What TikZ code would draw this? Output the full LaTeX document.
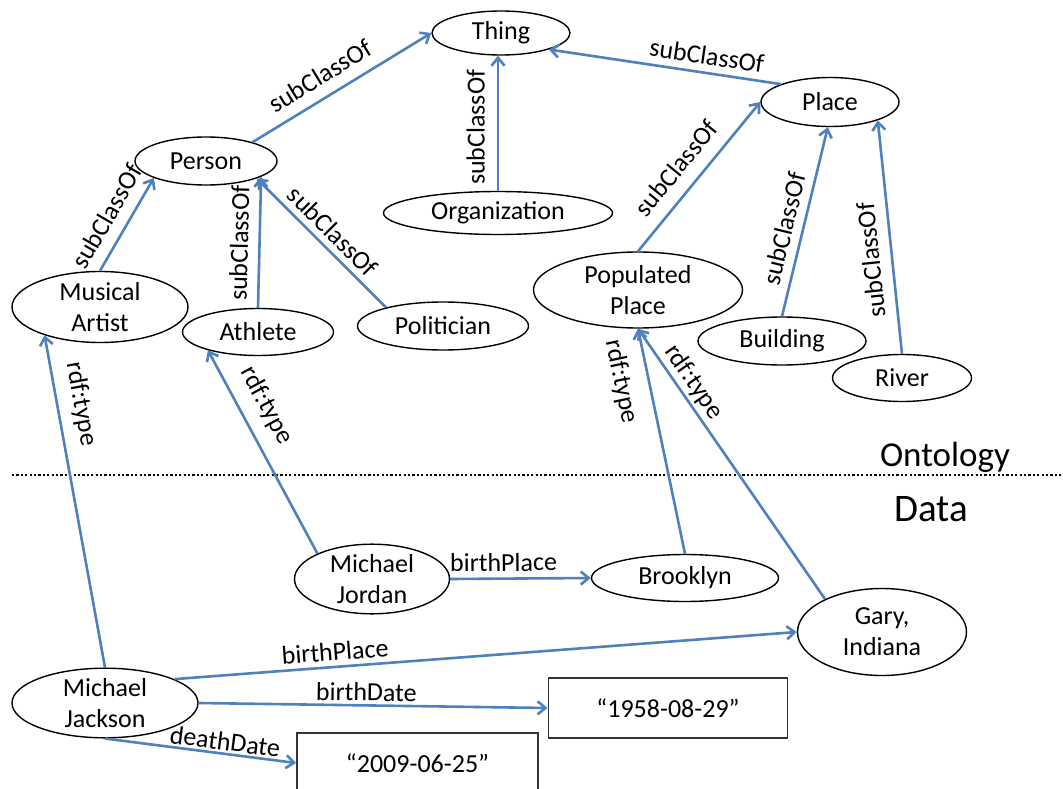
\documentclass[tikz,border=0pt]{standalone}
\usepackage{fontspec}
\setmainfont{Carlito}
\usetikzlibrary{arrows.meta,shapes.geometric}
\definecolor{arrowblue}{RGB}{79,129,189}
\begin{document}
\begin{tikzpicture}[x=1pt,y=-1pt,
  cls/.style={ellipse, draw=black, line width=1.4pt, inner sep=0pt, align=center, font=\fontsize{26}{31}\selectfont},
  lit/.style={rectangle, draw=black!80, line width=1.8pt, inner sep=0pt, font=\fontsize{26}{31}\selectfont},
  rel/.style={draw=arrowblue, line width=2.6pt, -{Straight Barb[length=8pt,width=13pt]}},
  lab/.style={font=\fontsize{26}{31}\selectfont, inner sep=1pt, sloped, text=black},
]
\useasboundingbox (0,0) rectangle (1063,789);
\clip (0,0) rectangle (1063,789);
\fill[white] (0,0) rectangle (1063,789);

% ontology classes
\node[cls, minimum width=138pt, minimum height=44pt] (thing) at (501,33) {Thing};
\node[cls, minimum width=142pt, minimum height=48pt] (person) at (206,161) {Person};
\node[cls, minimum width=229pt, minimum height=43pt] (org) at (498,213) {Organization};
\node[cls, minimum width=138pt, minimum height=49pt] (place) at (830,102) {Place};
\node[cls, minimum width=176pt, minimum height=71pt] (ma) at (100,307) {Musical\\Artist};
\node[cls, minimum width=151pt, minimum height=47pt] (athlete) at (258,332) {Athlete};
\node[cls, minimum width=171pt, minimum height=48pt] (politician) at (443,326) {Politician};
\node[cls, minimum width=209pt, minimum height=76pt] (pop) at (638,290) {Populated\\Place};
\node[cls, minimum width=168pt, minimum height=48pt] (building) at (782,341) {Building};
\node[cls, minimum width=139pt, minimum height=47pt] (river) at (902,378) {River};

% data
\node[cls, minimum width=155pt, minimum height=68pt] (mjordan) at (372,579) {Michael\\Jordan};
\node[cls, minimum width=187pt, minimum height=47pt] (brooklyn) at (685,578) {Brooklyn};
\node[cls, minimum width=169pt, minimum height=87pt] (gary) at (882,632) {Gary,\\Indiana};
\node[cls, minimum width=186pt, minimum height=67pt] (mjackson) at (105,703) {Michael\\Jackson};
\node[lit, minimum width=239pt, minimum height=60pt] (d1958) at (668,708) {“1958-08-29”};
\node[lit, minimum width=241pt, minimum height=60pt] (d2009) at (417.5,763) {“2009-06-25”};

% section labels and divider
\node[inner sep=0pt, font=\fontsize{35}{40}\selectfont] (onto) at (945,457) {Ontology};
\node[inner sep=0pt, font=\fontsize{39}{44}\selectfont] (data) at (931,509) {Data};
\draw[line width=2.8pt, dash pattern=on 2.2pt off 2.2pt] (12,475) -- (1063,475);

% subClassOf
\draw[rel] (person.22) -- node[lab, above=10pt, pos=0.44] {subClassOf} (thing.west);
\draw[rel] (org.north) -- node[lab, above=11pt, pos=0.47] {subClassOf} (org.north |- thing.south);
\draw[rel] (place.160) -- node[lab, above=6pt, pos=0.33] {subClassOf} (thing.-19);
\draw[rel] (ma.north) -- node[lab, above=10pt, pos=0.47] {subClassOf} (person.198);
\draw[rel] (athlete.north) -- node[lab, above=9pt, pos=0.49] {subClassOf} (person.-16);
\draw[rel] (politician.162) -- node[lab, above=5pt, pos=0.5] {subClassOf} (person.-19);
\draw[rel] (pop.north) -- node[lab, above=12pt, pos=0.46] {subClassOf} (place.west);
\draw[rel] (building.north) -- node[lab, above=7pt, pos=0.44] {subClassOf} (place.265);
\draw[rel] (river.north) -- node[lab, above=10pt, pos=0.41, allow upside down] {subClassOf} (place.-21);

% rdf:type
\draw[rel] (mjackson.north) -- node[lab, above=10pt, pos=0.78] {rdf:type} (ma.207);
\draw[rel] (mjordan.155) -- node[lab, above=12pt, pos=0.67] {rdf:type} (athlete.200);
\draw[rel] (brooklyn.north) -- node[lab, below=14pt, pos=0.79] {rdf:type} (pop.south);
\draw[rel] (gary.150) -- node[lab, above=2pt, pos=0.77] {rdf:type} (pop.south);

% data properties
\draw[rel] (mjordan.east) -- node[lab, above=5pt, pos=0.38] {birthPlace} (brooklyn.west);
\draw[rel] (mjackson.19) -- node[lab, above=4pt, pos=0.26] {birthPlace} (gary.west);
\draw[rel] (mjackson.east) -- node[lab, above=2pt, pos=0.48] {birthDate} (d1958.west);
\draw[rel] (mjackson.south) -- node[lab, above=1pt, pos=0.62] {deathDate} (d2009.west);
\end{tikzpicture}
\end{document}
